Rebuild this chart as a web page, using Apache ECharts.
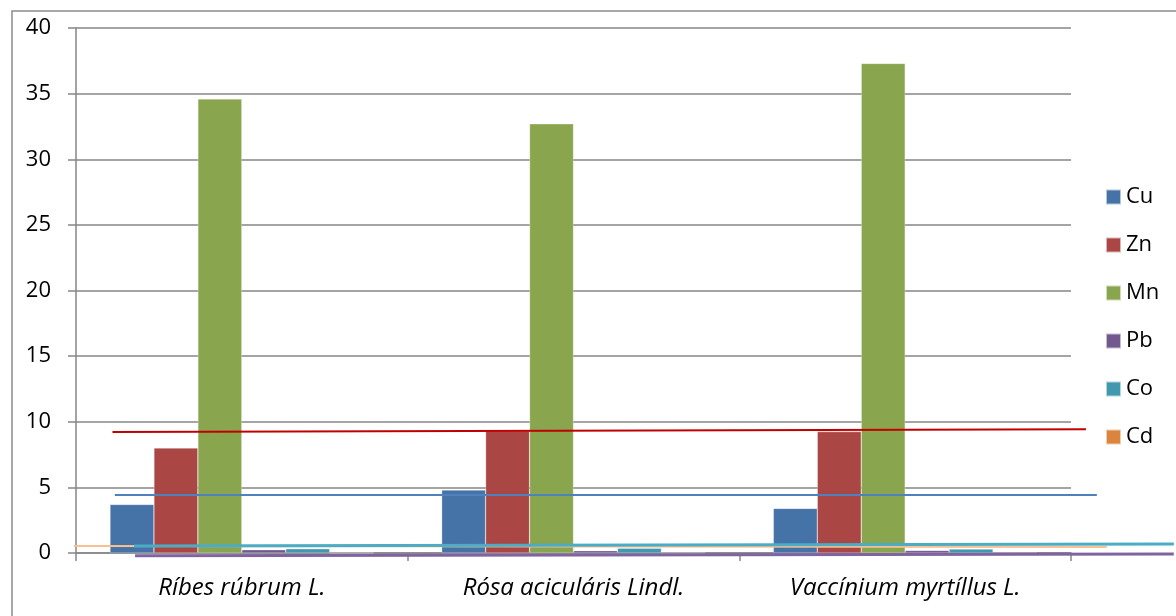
<!DOCTYPE html>
<html><head><meta charset="utf-8">
<script src="https://cdn.jsdelivr.net/npm/echarts@6/dist/echarts.min.js"></script>
<style>html,body{margin:0;padding:0;background:#fff}#c{width:1176px;height:616px}</style>
</head><body><div id="c"></div>
<script>
const categories = ['Ríbes rúbrum L.', 'Rósa aciculáris Lindl.', 'Vaccínium myrtíllus L.'];
const seriesNames = ['Cu', 'Zn', 'Mn', 'Pb', 'Co', 'Cd'];
const Cu = [3.7, 4.8, 3.4];
const Zn = [8.0, 9.3, 9.25];
const Mn = [34.6, 32.7, 37.3];
const Pb = [0.25, 0.18, 0.2];
const Co = [0.32, 0.36, 0.3];
const Cd = [0, 0, 0];
const yTicks = [0, 5, 10, 15, 20, 25, 30, 35, 40];

// reference lines, x in category units (0..3 across the plot), y in axis units
const lineZnX = [0.11, 3.045], lineZnY = [9.22, 9.42];
const lineCuX = [0.117, 3.078], lineCuY = [4.42, 4.42];
const lineCdX = [-0.006, 3.108], lineCdY = [0.53, 0.45];
const lineCoX = [0.175, 3.31], lineCoY = [0.53, 0.68];
const linePbX = [0.178, 3.31], linePbY = [-0.2, -0.08];

const colors = ['#4572A7', '#AA4643', '#89A54E', '#71588F', '#4198AF', '#DB843D'];
const values = [Cu, Zn, Mn, Pb, Co, Cd];
const FONT = 'Open Sans';

// plot geometry
const L = 76, R = 105, T = 28, B = 63, W = 1176, H = 616;
const pxX = (W - L - R) / 3;          // px per category unit
const pxY = (H - T - B) / 40;          // px per y unit
const X2MIN = -0.1, X2MAX = 3.31, Y2MIN = -1;

const barSeries = seriesNames.map((n, i) => ({
  name: n, type: 'bar', data: values[i], barGap: '0%', barCategoryGap: '20.5%',
  itemStyle: { color: colors[i], borderColor: 'rgba(255,255,255,0.6)', borderWidth: 0.5 },
  z: 2
}));
function refLine(xs, ys, color, w) {
  return { type: 'line', xAxisIndex: 1, yAxisIndex: 1, data: xs.map((x, k) => [x, ys[k]]), symbol: 'none', clip: false,
    lineStyle: { color: color, width: w }, z: 5, silent: true };
}
const lines = [
  refLine(lineCdX, lineCdY, '#FAC090', 2),
  refLine(lineZnX, lineZnY, '#C00000', 2),
  refLine(lineCuX, lineCuY, '#4F81BD', 2),
  refLine(lineCoX, lineCoY, '#4BACC6', 3),
  refLine(linePbX, linePbY, '#8064A2', 3)
];

const chart = echarts.init(document.getElementById('c'));
chart.setOption({
  animation: false,
  textStyle: { fontFamily: FONT },
  graphic: [{ type: 'rect', shape: { x: 12, y: 11, width: 1200, height: 700 }, style: { fill: 'none', stroke: '#8c8c8c', lineWidth: 1.5 }, z: 0 }],
  grid: [
    { left: L, right: R, top: T, bottom: B, containLabel: false },
    { left: L + X2MIN * pxX, right: W - (L + X2MAX * pxX), top: T, bottom: B + Y2MIN * pxY, containLabel: false }
  ],
  legend: {
    data: seriesNames, orient: 'vertical', left: 1105, top: 186, padding: 0, itemWidth: 15, itemHeight: 15, itemGap: 26,
    icon: 'rect', textStyle: { fontSize: 22, color: '#000', fontFamily: FONT }, selectedMode: false
  },
  xAxis: [{
    type: 'category', data: categories, gridIndex: 0,
    axisLine: { lineStyle: { color: '#868686', width: 1.5 } },
    axisTick: { show: true, length: 8, lineStyle: { color: '#868686', width: 1.5 } },
    axisLabel: { fontSize: 24, fontStyle: 'italic', color: '#000', margin: 23, fontFamily: FONT }
  }, {
    type: 'value', gridIndex: 1, min: X2MIN, max: X2MAX, show: false
  }],
  yAxis: [{
    type: 'value', gridIndex: 0, min: 0, max: 40, interval: 5,
    axisLine: { show: true, lineStyle: { color: '#868686', width: 1.5 } },
    axisTick: { show: true, length: 8, lineStyle: { color: '#868686', width: 1.5 } },
    splitLine: { lineStyle: { color: '#868686', width: 1.5 } },
    axisLabel: { fontSize: 22, color: '#000', margin: 25, fontFamily: FONT,
      formatter: v => yTicks.includes(v) ? String(v) : '' }
  }, {
    type: 'value', gridIndex: 1, min: Y2MIN, max: 40, show: false
  }],
  series: barSeries.concat(lines)
});
</script></body></html>
